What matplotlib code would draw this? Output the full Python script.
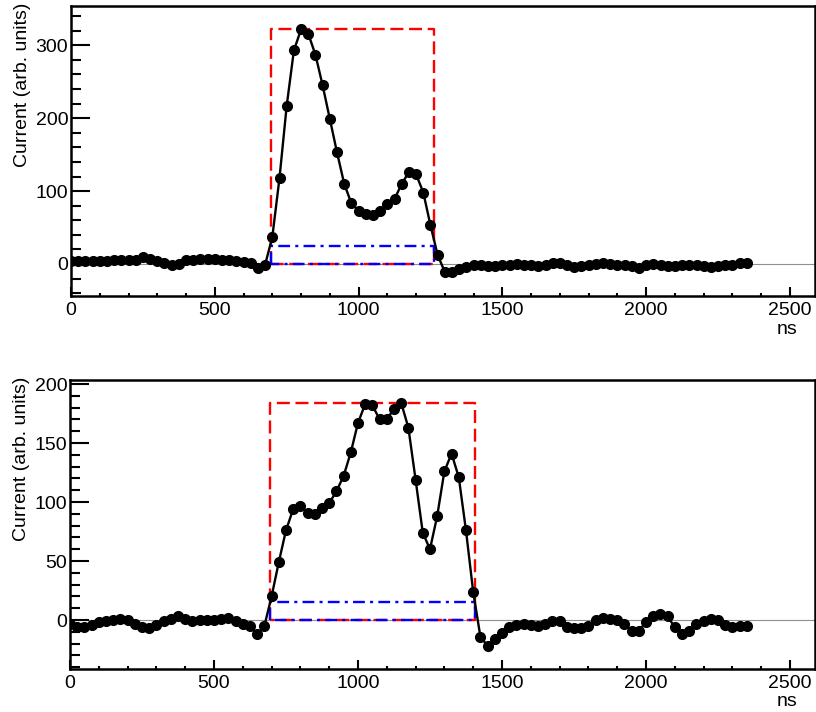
import numpy as np
import matplotlib
matplotlib.use("Agg")
import matplotlib.pyplot as plt
from matplotlib.ticker import MultipleLocator

plt.rcParams['font.family'] = ['Liberation Sans', 'DejaVu Sans']

# sampling times (ns)
t = np.arange(0, 2375, 25)

# top pulse
top_current = [4, 4, 4, 4, 4, 4, 5, 5, 5, 6, 9, 7, 4, 1, -2, 0, 5, 6, 7, 7, 7, 6, 6, 4, 3, 1, -6, -1,
               37, 118, 217, 293, 322, 316, 287, 245, 199, 153, 110, 83, 73, 68, 67, 72, 82, 89, 110, 126,
               123, 98, 53, 12,
               -11, -11, -7, -4, -2, -2, -3, -3, -2, -1, 0, -1, -2, -3, -1, 1, 1, -1, -4, -3,
               -1, 0, 1, 0, -1, -2, -3, -5, -2, 0, -1, -3, -3, -2, -2, -2, -3, -4, -3, -2, -1, 1, 1]
top_window = [695, 1262]
top_box = [0, 322]
top_low = 25
top_ylim = (-44, 354)

# bottom pulse
bot_current = [-3, -6, -6, -4, -2, -1, 0, 1, 0, -3, -6, -7, -4, -1, 1, 3, 1, -1, 0, 0, 0, 1, 2, -1, -3, -5, -12, -5,
               20, 49, 76, 94, 97, 91, 90, 95, 99, 109, 122, 142, 167, 183, 182, 170, 170, 179, 184, 163,
               119, 74, 60, 88, 126, 141, 121, 76, 24,
               -14, -22, -16, -11, -6, -4, -3, -4, -5, -3, -1, -1, -6, -7, -7, -5, 0, 2, 1, 0,
               -3, -9, -9, -2, 3, 5, 3, -6, -12, -9, -3, -1, 1, 0, -4, -6, -5, -5]
bot_window = [695, 1405]
bot_box = [0, 184]
bot_low = 15
bot_ylim = (-41.5, 203.4)

fig = plt.figure(figsize=(8.16, 7.12), dpi=100)
ax1 = fig.add_axes([71/816, 1 - 296/712, 744/816, 290/712])
ax2 = fig.add_axes([70/816, 1 - 669/712, 745/816, 289/712])

panels = [(ax1, top_current, top_window, top_box, top_low, top_ylim, 100, 20),
          (ax2, bot_current, bot_window, bot_box, bot_low, bot_ylim, 50, 10)]

for ax, cur, win, box, low, ylim, major, minor in panels:
    ax.axhline(0, color='#909090', lw=0.8, zorder=1)
    # red window
    ax.plot([win[0], win[0], win[1], win[1], win[0]], [box[0], box[1], box[1], box[0], box[0]],
            color='#ff0000', lw=1.7, dashes=(5.5, 2.4), zorder=2)
    # blue threshold box
    ax.plot([win[0], win[0], win[1], win[1], win[0]], [0, low, low, 0, 0],
            color='#0000ff', lw=1.7, dashes=(5.0, 2.2, 1.3, 2.2), zorder=3)
    ax.plot(t, cur, color='black', lw=1.7, marker='o', ms=7, zorder=4)

    ax.set_xlim(0, 2587)
    ax.set_ylim(*ylim)
    ax.xaxis.set_major_locator(MultipleLocator(500))
    ax.xaxis.set_minor_locator(MultipleLocator(100))
    ax.yaxis.set_major_locator(MultipleLocator(major))
    ax.yaxis.set_minor_locator(MultipleLocator(minor))
    ax.tick_params(axis='both', which='both', direction='in', labelsize=14, width=1.5)
    ax.tick_params(axis='y', which='major', length=14, pad=2)
    ax.tick_params(axis='y', which='minor', length=7.5)
    ax.tick_params(axis='x', which='major', length=6.5, pad=4)
    ax.tick_params(axis='x', which='minor', length=2.5)
    for s in ax.spines.values():
        s.set_linewidth(1.8)
    ax.set_ylabel('Current (arb. units)', fontsize=14, ha='right', y=1.0)
    ax.yaxis.set_label_coords(-0.054, 1.01)
    ax.text(0.977, -0.114, 'ns', transform=ax.transAxes, ha='right', va='center', fontsize=14)

plt.savefig('out.png', dpi=100)
